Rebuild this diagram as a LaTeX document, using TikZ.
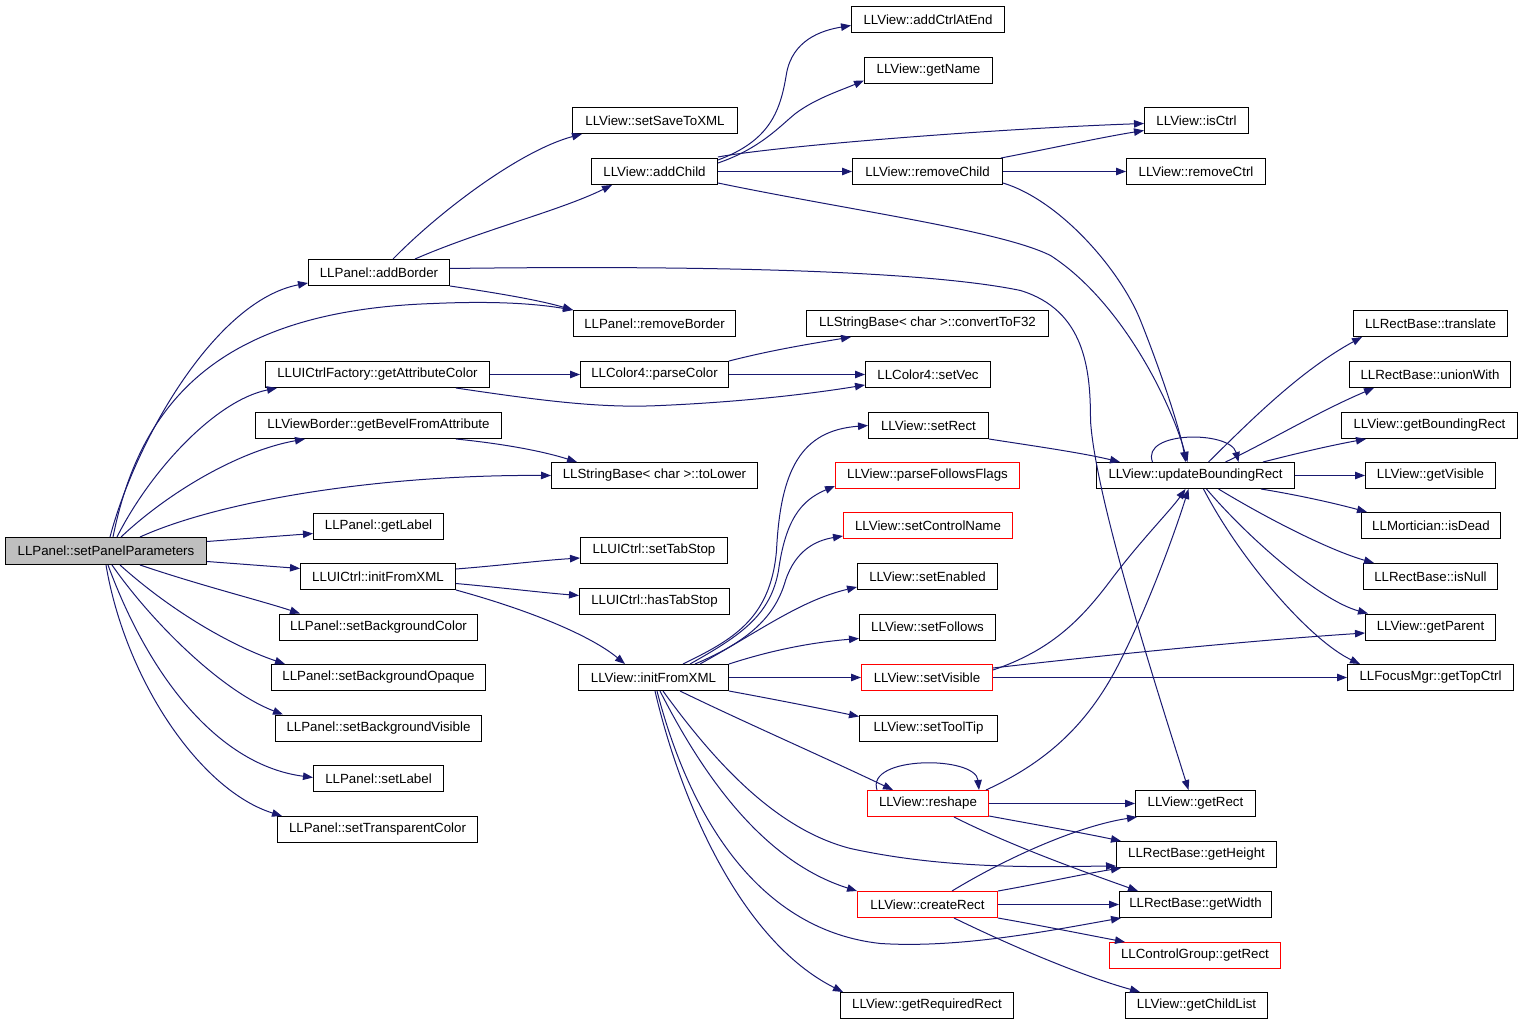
\documentclass[tikz,border=0pt]{standalone}
\usepackage{fontspec}
\setmainfont{Liberation Sans}
\usetikzlibrary{arrows.meta}
\definecolor{edgecol}{HTML}{191970}
\definecolor{rootfill}{HTML}{BFBFBF}
\begin{document}
\begin{tikzpicture}[x=1pt,y=-1pt,
  box/.style={draw=black, line width=1pt, fill=white, inner sep=0pt, minimum height=26pt,
    font=\fontsize{13.3}{16}\selectfont, text=black},
  redbox/.style={box, draw=red},
  e/.style={draw=edgecol, line width=1pt, -{Triangle[length=10pt,width=7.5pt]}}]
\useasboundingbox (-0.5,-0.5) rectangle (1522.5,1023.5);
% nodes
\node[box, fill=rootfill, minimum width=201pt, minimum height=27pt] (P) at (105.5,550.5) {LLPanel::setPanelParameters};
\node[box, minimum width=141pt] (AB) at (378.5,272) {LLPanel::addBorder};
\node[box, minimum width=165pt] (SS) at (654.5,120) {LLView::setSaveToXML};
\node[box, minimum width=126pt] (AC) at (654,171) {LLView::addChild};
\node[box, minimum width=153pt] (ACE) at (927.5,19) {LLView::addCtrlAtEnd};
\node[box, minimum width=128pt] (GN) at (928,70) {LLView::getName};
\node[box, minimum width=104pt] (IC) at (1196,120) {LLView::isCtrl};
\node[box, minimum width=150pt] (RC) at (927,171) {LLView::removeChild};
\node[box, minimum width=139pt] (RCt) at (1195.5,171) {LLView::removeCtrl};
\node[box, minimum width=162pt] (RB) at (654,323) {LLPanel::removeBorder};
\node[box, minimum width=242pt] (CF) at (927,323) {LLStringBase< char >::convertToF32};
\node[box, minimum width=154pt] (TR) at (1430,323) {LLRectBase::translate};
\node[box, minimum width=224pt] (GAC) at (377,374) {LLUICtrlFactory::getAttributeColor};
\node[box, minimum width=148pt] (PC) at (654,374) {LLColor4::parseColor};
\node[box, minimum width=125pt] (SV) at (927.5,374) {LLColor4::setVec};
\node[box, minimum width=161pt] (UW) at (1429.5,374) {LLRectBase::unionWith};
\node[box, minimum width=246pt] (GB) at (378,425) {LLViewBorder::getBevelFromAttribute};
\node[box, minimum width=120pt] (SR) at (928,425) {LLView::setRect};
\node[box, minimum width=176pt] (GBR) at (1429,425) {LLView::getBoundingRect};
\node[box, minimum width=206pt] (TL) at (654,475) {LLStringBase< char >::toLower};
\node[redbox, minimum width=184pt] (PFF) at (927,475) {LLView::parseFollowsFlags};
\node[box, minimum width=198pt] (UBR) at (1195,475) {LLView::updateBoundingRect};
\node[box, minimum width=130pt] (GV) at (1430,475) {LLView::getVisible};
\node[box, minimum width=130pt] (GL) at (378,526) {LLPanel::getLabel};
\node[redbox, minimum width=169pt] (SCN) at (927.5,525) {LLView::setControlName};
\node[box, minimum width=139pt] (ID) at (1430.5,525) {LLMortician::isDead};
\node[box, minimum width=147pt] (STS) at (653.5,550) {LLUICtrl::setTabStop};
\node[box, minimum width=155pt] (UI) at (377.5,576) {LLUICtrl::initFromXML};
\node[box, minimum width=140pt] (SE) at (927,576) {LLView::setEnabled};
\node[box, minimum width=134pt] (IN) at (1430,576) {LLRectBase::isNull};
\node[box, minimum width=150pt] (HTS) at (654,601) {LLUICtrl::hasTabStop};
\node[box, minimum width=198pt] (SBC) at (378,626.5) {LLPanel::setBackgroundColor};
\node[box, minimum width=136pt] (SF) at (927,626.5) {LLView::setFollows};
\node[box, minimum width=130pt] (GP) at (1430,626.5) {LLView::getParent};
\node[box, minimum width=214pt] (SBO) at (378,677) {LLPanel::setBackgroundOpaque};
\node[box, minimum width=150pt] (VI) at (653,677) {LLView::initFromXML};
\node[redbox, minimum width=131pt] (SVis) at (926.5,677) {LLView::setVisible};
\node[box, minimum width=166pt] (GTC) at (1430,677) {LLFocusMgr::getTopCtrl};
\node[box, minimum width=206pt] (SBV) at (378,727.5) {LLPanel::setBackgroundVisible};
\node[box, minimum width=138pt] (STT) at (928,727.5) {LLView::setToolTip};
\node[box, minimum width=130pt] (SL) at (378,778) {LLPanel::setLabel};
\node[redbox, minimum width=121pt] (RS) at (927.5,803) {LLView::reshape};
\node[box, minimum width=120pt] (GR) at (1195,803) {LLView::getRect};
\node[box, minimum width=200pt] (STC) at (377,829) {LLPanel::setTransparentColor};
\node[box, minimum width=160pt] (GH) at (1196,854) {LLRectBase::getHeight};
\node[redbox, minimum width=140pt] (CR) at (927,904) {LLView::createRect};
\node[box, minimum width=152pt] (GW) at (1195,904) {LLRectBase::getWidth};
\node[redbox, minimum width=171pt] (CGR) at (1194.5,955) {LLControlGroup::getRect};
\node[box, minimum width=173pt] (GRR) at (926.5,1005) {LLView::getRequiredRect};
\node[box, minimum width=142pt] (GCL) at (1196,1005) {LLView::getChildList};
% edges from setPanelParameters
\draw[e] ([xshift=105pt]P.north west) .. controls (135,440) and (215,300) .. ([yshift=3pt]AB.south west);
\draw[e] ([xshift=108pt]P.north west) .. controls (140,400) and (220,310) .. (433,303) .. controls (500,300) and (540,304) .. (RB.north west);
\draw[e] ([xshift=112pt]P.north west) .. controls (150,470) and (215,400) .. ([xshift=12pt]GAC.south west);
\draw[e] ([xshift=116pt]P.north west) .. controls (170,490) and (240,450) .. ([xshift=50pt]GB.south west);
\draw[e] ([xshift=135pt]P.north west) .. controls (220,500) and (380,474) .. (TL.west);
\draw[e] ([yshift=9.5pt]P.east) -- ([yshift=-7pt]GL.west);
\draw[e] ([yshift=-10.5pt]P.east) -- ([yshift=8pt]UI.west);
\draw[e] ([xshift=135pt]P.south west) .. controls (200,585) and (260,600) .. ([xshift=21pt]SBC.north west);
\draw[e] ([xshift=115pt]P.south west) .. controls (170,610) and (230,645) .. ([xshift=14pt]SBO.north west);
\draw[e] ([xshift=107pt]P.south west) .. controls (150,620) and (220,690) .. ([xshift=8pt]SBV.north west);
\draw[e] ([xshift=103pt]P.south west) .. controls (150,680) and (220,765) .. ([yshift=1pt]SL.west);
\draw[e] ([xshift=101pt]P.south west) .. controls (125,680) and (200,790) .. ([xshift=5pt]STC.north west);
% addBorder
\draw[e] ([xshift=85pt]AB.north west) .. controls (440,210) and (520,150) .. ([xshift=10pt]SS.south west);
\draw[e] ([xshift=107pt]AB.north west) .. controls (480,230) and (560,210) .. ([xshift=21pt]AC.south west);
\draw[e] (AB.south east) .. controls (500,293) and (540,300) .. (RB.north west);
\draw[e] ([yshift=4pt]AB.east) .. controls (600,266) and (900,265) .. (1020,290) .. controls (1085,310) and (1090,370) .. (1090,420) .. controls (1095,500) and (1160,700) .. ([xshift=-7pt]GR.north);
% addChild
\draw[e] ([yshift=-2pt]AC.north east) .. controls (770,140) and (780,110) .. (786,73) .. controls (792,40) and (820,30) .. ([yshift=-6pt]ACE.west);
\draw[e] ([yshift=-5pt]AC.north east) .. controls (760,148) and (780,125) .. (795,113) .. controls (815,98) and (840,90) .. ([yshift=-10pt]GN.west);
\draw[e] ([yshift=1pt]AC.north east) .. controls (780,145) and (1000,128) .. ([yshift=-3pt]IC.west);
\draw[e] (AC.east) -- (RC.west);
\draw[e] ([yshift=2pt]AC.south east) .. controls (850,210) and (1000,230) .. (1050,255) .. controls (1120,300) and (1170,400) .. ([xshift=-8pt]UBR.north);
% removeChild
\draw[e] ([xshift=-2pt]RC.north east) .. controls (1050,148) and (1100,137) .. ([yshift=-10pt]IC.west);
\draw[e] (RC.east) -- (RCt.west);
\draw[e] ([yshift=2pt]RC.south east) .. controls (1060,200) and (1120,270) .. (1140,320) .. controls (1160,370) and (1180,430) .. ([xshift=-10pt]UBR.north);
% getAttributeColor, parseColor, getBevel
\draw[e] (GAC.east) -- (PC.west);
\draw[e] ([xshift=-34pt]GAC.south east) .. controls (540,400) and (600,408) .. (660,405) .. controls (730,402) and (800,395) .. ([yshift=3pt]SV.south west);
\draw[e] (PC.north east) .. controls (770,350) and (800,345) .. ([xshift=45pt]CF.south west);
\draw[e] (PC.east) -- (SV.west);
\draw[e] ([xshift=-46pt]GB.south east) .. controls (500,443) and (540,450) .. ([xshift=26pt]TL.north west);
% LLUICtrl::initFromXML
\draw[e] ([yshift=-6pt]UI.north east) .. controls (500,565) and (540,560) .. ([yshift=6pt]STS.south west);
\draw[e] ([yshift=-7pt]UI.east) .. controls (500,587) and (540,592) .. ([yshift=6pt]HTS.west);
\draw[e] (UI.south east) .. controls (530,610) and (590,635) .. ([xshift=47pt]VI.north west);
% LLView::initFromXML
\draw[e] ([xshift=105pt]VI.north west) .. controls (730,640) and (770,620) .. (776,550) .. controls (780,470) and (800,430) .. (SR.west);
\draw[e] ([xshift=112pt]VI.north west) .. controls (740,635) and (770,615) .. (778,570) .. controls (785,520) and (800,500) .. ([yshift=3pt]PFF.south west);
\draw[e] ([xshift=117pt]VI.north west) .. controls (750,640) and (775,615) .. (785,580) .. controls (795,550) and (815,540) .. ([yshift=3pt]SCN.south west);
\draw[e] ([xshift=122pt]VI.north west) .. controls (760,630) and (800,600) .. ([yshift=3pt]SE.south west);
\draw[e] (VI.north east) .. controls (770,650) and (810,642) .. ([yshift=2pt]SF.south west);
\draw[e] (VI.east) -- (SVis.west);
\draw[e] (VI.south east) .. controls (780,700) and (820,708) .. ([yshift=-2pt]STT.north west);
\draw[e] ([xshift=102pt]VI.south west) .. controls (740,720) and (820,755) .. ([xshift=26pt]RS.north west);
\draw[e] ([xshift=85pt]VI.south west) .. controls (720,770) and (780,830) .. (850,848) .. controls (950,870) and (1050,866) .. ([yshift=2pt]GH.south west);
\draw[e] ([xshift=82pt]VI.south west) .. controls (700,770) and (760,860) .. (CR.north west);
\draw[e] ([xshift=79pt]VI.south west) .. controls (690,820) and (760,930) .. (880,943) .. controls (960,948) and (1050,930) .. ([xshift=2pt]GW.south west);
\draw[e] ([xshift=77pt]VI.south west) .. controls (680,800) and (740,940) .. ([xshift=3pt]GRR.north west);
% setRect, setVisible
\draw[e] (SR.south east) .. controls (1030,445) and (1080,452) .. ([xshift=24pt]UBR.north west);
\draw[e] ([yshift=-6pt]SVis.north east) .. controls (1050,650) and (1080,620) .. (1110,580) .. controls (1140,540) and (1170,510) .. ([xshift=-10pt]UBR.south);
\draw[e] ([yshift=-4pt]SVis.north east) .. controls (1100,655) and (1250,640) .. ([yshift=-6pt]GP.west);
\draw[e] (SVis.east) -- (GTC.west);
% updateBoundingRect
\draw[e] ([xshift=-43pt]UBR.north) .. controls (1140,430) and (1230,430) .. ([xshift=43pt]UBR.north);
\draw[e] ([xshift=13pt]UBR.north) .. controls (1250,420) and (1300,370) .. ([xshift=9pt]TR.south west);
\draw[e] ([xshift=30pt]UBR.north) .. controls (1270,440) and (1320,410) .. ([xshift=25pt]UW.south west);
\draw[e] ([xshift=-32pt]UBR.north east) .. controls (1300,452) and (1330,445) .. ([xshift=25pt]GBR.south west);
\draw[e] (UBR.east) -- (GV.west);
\draw[e] ([xshift=-34pt]UBR.south east) .. controls (1300,495) and (1335,503) .. ([xshift=6pt]ID.north west);
\draw[e] ([xshift=23pt]UBR.south) .. controls (1270,520) and (1330,550) .. ([xshift=11pt]IN.north west);
\draw[e] ([xshift=11pt]UBR.south) .. controls (1250,540) and (1320,600) .. ([xshift=3pt]GP.north west);
\draw[e] ([xshift=8pt]UBR.south) .. controls (1240,560) and (1310,640) .. ([xshift=13pt]GTC.north west);
% reshape
\draw[e] ([xshift=10pt]RS.north west) .. controls (865,755) and (975,755) .. ([xshift=-10pt]RS.north east);
\draw[e] ([xshift=-3pt]RS.north east) .. controls (1050,760) and (1090,720) .. (1120,660) .. controls (1150,600) and (1175,530) .. ([xshift=-7pt]UBR.south);
\draw[e] (RS.east) -- (GR.west);
\draw[e] ([yshift=1pt]RS.south east) .. controls (1040,825) and (1080,832) .. ([xshift=5pt]GH.north west);
\draw[e] ([xshift=87pt]RS.south west) .. controls (1010,845) and (1080,870) .. ([xshift=19pt]GW.north west);
% createRect
\draw[e] ([xshift=95pt]CR.north west) .. controls (1010,855) and (1080,825) .. ([xshift=2pt]GR.south west);
\draw[e] (CR.north east) .. controls (1040,883) and (1080,874) .. ([xshift=5pt]GH.south west);
\draw[e] (CR.east) -- (GW.west);
\draw[e] (CR.south east) .. controls (1040,925) and (1080,933) .. ([xshift=16pt]CGR.north west);
\draw[e] ([xshift=97pt]CR.south west) .. controls (1010,945) and (1080,975) .. ([xshift=15pt]GCL.north west);
\end{tikzpicture}
\end{document}
